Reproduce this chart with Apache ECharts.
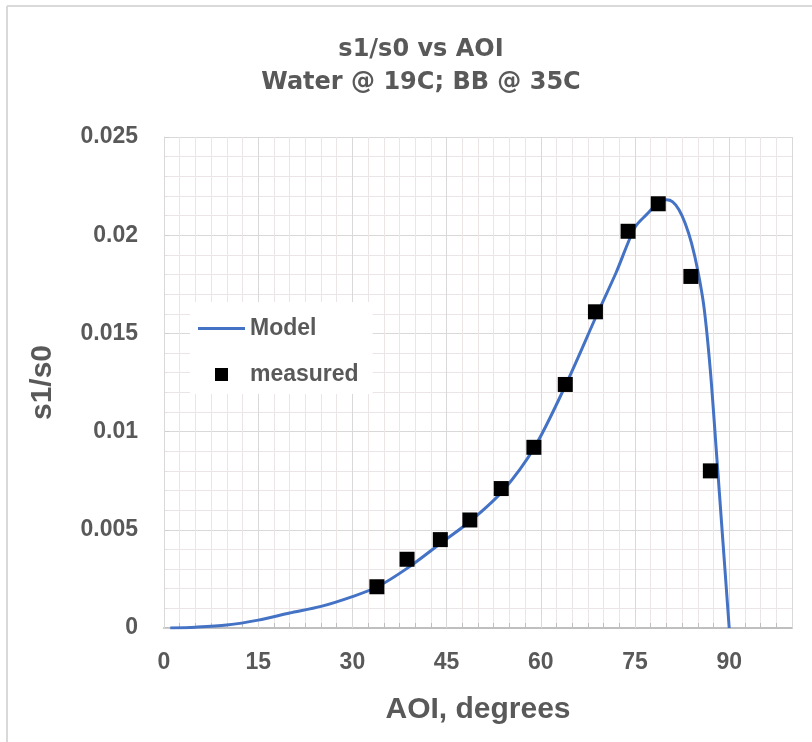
<!DOCTYPE html>
<html>
<head>
<meta charset="utf-8">
<script src="https://cdn.jsdelivr.net/npm/echarts@6/dist/echarts.min.js"></script>
<style>
    html, body {margin: 0; padding: 0; background: #fff;}
    #main {width: 812px; height: 742px;}
</style>
</head>
<body>
<div id="main"></div>
<script>
// model curve
let aoiModel = [1, 5, 10, 15, 20, 25, 30, 34, 39, 44, 49, 54, 59, 64, 69, 72, 75, 77, 78.5, 80, 81, 82, 83, 84, 85, 86, 87, 88, 89, 90];
let s1s0Model = [0, 0.00004, 0.00015, 0.0004, 0.00076, 0.0011, 0.0016, 0.0021, 0.0031, 0.0043, 0.0055, 0.0070, 0.0092, 0.0124, 0.0160,
    0.0181, 0.0204, 0.0211, 0.0216, 0.0218, 0.0217, 0.0213, 0.0206, 0.0196, 0.0182, 0.0163, 0.0131, 0.0088, 0.0044, 0];

// measured points
let aoiMeasured = [33.9, 38.7, 44, 48.7, 53.7, 58.9, 63.9, 68.7, 73.9, 78.7, 83.9, 87];
let s1s0Measured = [0.0021, 0.0035, 0.0045, 0.0055, 0.0071, 0.0092, 0.0124, 0.0161, 0.0202, 0.0216, 0.0179, 0.0080];

let seriesNames = ['Model', 'measured'];

let main = document.getElementById('main');
let chart = echarts.init(main, null, {renderer: 'canvas'});

let grey = '#595959';
let labelFont = 'Liberation Sans';

let option = {
    animation: false,
    backgroundColor: '#fff',
    title: {
        text: 's1/s0 vs AOI\nWater @ 19C; BB @ 35C',
        left: 416,
        textAlign: 'center',
        top: 28,
        textStyle: {
            fontFamily: 'DejaVu Sans',
            fontWeight: 'bold',
            fontSize: 24,
            lineHeight: 33,
            color: grey
        }
    },
    graphic: [
        {type: 'line', shape: {x1: 7, y1: 6, x2: 812, y2: 6}, style: {stroke: '#d9d9d9', lineWidth: 2}},
        {type: 'line', shape: {x1: 7, y1: 6, x2: 7, y2: 742}, style: {stroke: '#d9d9d9', lineWidth: 2}}
    ],
    legend: {
        data: [
            {name: seriesNames[0], icon: 'path://M0,0 L47,0 L47,3 L0,3 Z'},
            {name: seriesNames[1], icon: 'path://M0,0 L10,0 L10,10 L0,10 Z'}
        ],
        orient: 'vertical',
        left: 190,
        top: 302,
        padding: [15, 14, 8, 8],
        itemWidth: 47,
        itemHeight: 13,
        itemGap: 23,
        backgroundColor: '#fff',
        textStyle: {
            fontFamily: labelFont,
            fontWeight: 'bold',
            fontSize: 23,
            color: grey
        }
    },
    grid: {
        left: 164,
        right: 20,
        top: 137,
        bottom: 114
    },
    xAxis: [
        {
            type: 'value',
            min: 0,
            max: 100,
            interval: 15,
            z: 1,
            name: 'AOI, degrees',
            nameLocation: 'middle',
            nameGap: 67,
            nameTextStyle: {
                fontFamily: labelFont,
                fontWeight: 'bold',
                fontSize: 30,
                color: grey
            },
            axisLine: {show: false},
            axisTick: {show: false},
            axisLabel: {
                showMaxLabel: false,
                margin: 23,
                fontFamily: labelFont,
                fontWeight: 'bold',
                fontSize: 23,
                color: grey
            },
            splitLine: {
                show: true,
                lineStyle: {color: '#d9d9d9', width: 1}
            }
        },
        {
            type: 'value',
            min: 0,
            max: 100,
            interval: 2.5,
            z: 0,
            position: 'bottom',
            axisLine: {show: true, lineStyle: {color: '#bfbfbf', width: 2}},
            axisTick: {show: true, inside: true, length: 5, lineStyle: {color: '#bfbfbf'}},
            axisLabel: {show: false},
            splitLine: {
                show: true,
                lineStyle: {color: '#ebe5e5', width: 1}
            }
        }
    ],
    yAxis: {
        type: 'value',
        min: 0,
        max: 0.025,
        interval: 0.005,
        name: 's1/s0',
        nameLocation: 'middle',
        nameGap: 106,
        nameTextStyle: {
            fontFamily: labelFont,
            fontWeight: 'bold',
            fontSize: 30,
            color: grey
        },
        axisLine: {show: true, lineStyle: {color: '#d9d9d9', width: 1}},
        axisTick: {show: true, inside: true, length: 5, lineStyle: {color: '#d0d0d0'}},
        minorTick: {show: true, splitNumber: 5, length: 3, lineStyle: {color: '#e0e0e0'}},
        axisLabel: {
            margin: 26,
            fontFamily: labelFont,
            fontWeight: 'bold',
            fontSize: 23,
            color: grey
        },
        splitLine: {
            show: true,
            lineStyle: {color: '#d9d9d9', width: 1}
        },
        minorSplitLine: {
            show: true,
            lineStyle: {color: '#ebe5e5', width: 1}
        }
    },
    series: [
        {
            type: 'line',
            name: 'Model',
            xAxisIndex: 0,
            data: aoiModel.map((x, i) => [x, s1s0Model[i]]),
            smooth: 0.3,
            symbol: 'none',
            color: '#4472C4',
            lineStyle: {width: 3, color: '#4472C4'},
            z: 2
        },
        {
            type: 'scatter',
            name: 'measured',
            xAxisIndex: 0,
            data: aoiMeasured.map((x, i) => [x, s1s0Measured[i]]),
            symbol: 'rect',
            symbolSize: 15,
            itemStyle: {color: '#000', opacity: 1},
            z: 3
        }
    ]
};

chart.setOption(option);

window.addEventListener('resize', chart.resize);
</script>
</body>
</html>
